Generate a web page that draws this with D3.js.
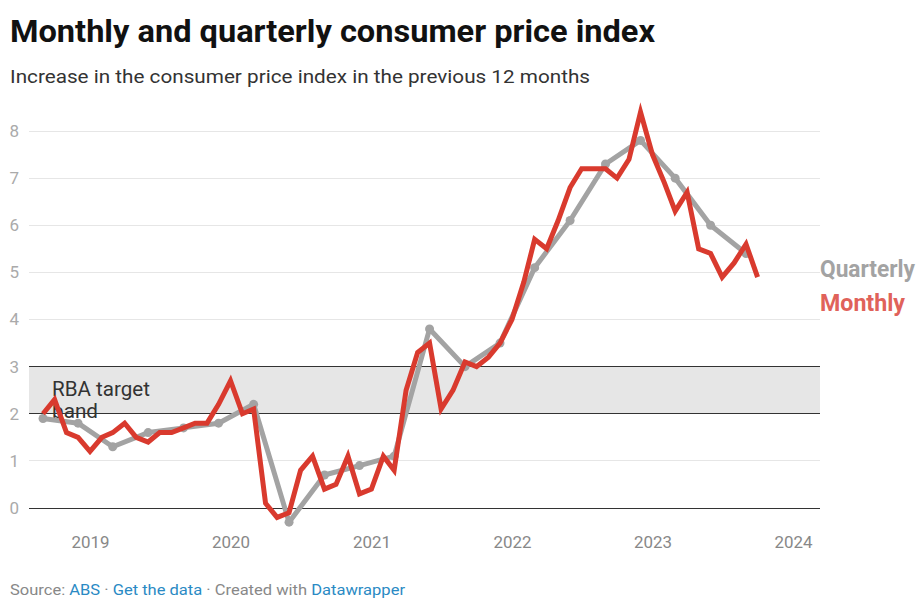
<!DOCTYPE html>
<html><head><meta charset="utf-8">
<script src="https://cdn.jsdelivr.net/npm/d3@7"></script>
<style>
body{margin:0;background:#fff;}
text{font-family:Roboto,"Noto Sans",sans-serif;}
</style>
</head><body>
<svg id="chart" width="918" height="600"></svg>
<script>
// ---- data ----
const monthlyStart = "2018-09";
const monthlyValues = [2.0,2.3,1.6,1.5,1.2,1.5,1.6,1.8,1.5,1.4,
  1.6,1.6,1.7,1.8,1.8,2.2,2.7,2.0,2.1,0.1,
  -0.2,-0.1,0.8,1.1,0.4,0.5,1.1,0.3,0.4,1.1,
  0.8,2.5,3.3,3.5,2.1,2.5,3.1,3.0,3.2,3.5,
  4.0,4.8,5.7,5.5,6.1,6.8,7.2,7.2,7.2,7.0,
  7.4,8.4,7.5,6.9,6.3,6.7,5.5,5.4,4.9,5.2,
  5.6,4.9];
const quarterlyDates = ["2018-09","2018-12","2019-03","2019-06","2019-09","2019-12","2020-03","2020-06",
  "2020-09","2020-12","2021-03","2021-06","2021-09","2021-12","2022-03","2022-06","2022-09","2022-12",
  "2023-03","2023-06","2023-09"];
const quarterlyValues = [1.9,1.8,1.3,1.6,1.7,1.8,2.2,-0.3,0.7,0.9,1.1,3.8,3.0,3.5,5.1,6.1,7.3,7.8,7.0,6.0,5.4];
const yearTicks = [2019,2020,2021,2022,2023,2024];
const yTicks = [0,1,2,3,4,5,6,7,8];
const targetBand = [2,3];
const seriesNames = ["Quarterly","Monthly"];

// ---- setup ----
const svg = d3.select("#chart");
const parse = d3.timeParse("%Y-%m");
const x = d3.scaleTime().domain([new Date(2019,0,1), new Date(2024,0,1)]).range([90,793]);
const y = d3.scaleLinear().domain([0,8]).range([508,131]);
const plotLeft = 29, plotRight = 820;

const start = parse(monthlyStart);
const monthly = monthlyValues.map((v,i)=>({date:d3.timeMonth.offset(start,i), value:v}));
const quarterly = quarterlyValues.map((v,i)=>({date:parse(quarterlyDates[i]), value:v}));

const grey = "#a3a3a3", red = "#d93a2e";

// title
svg.append("text").attr("x",10).attr("y",42).attr("font-size",32).attr("font-weight",700)
  .attr("fill","#111").attr("textLength",645).attr("lengthAdjust","spacingAndGlyphs")
  .text("Monthly and quarterly consumer price index");
svg.append("text").attr("x",10).attr("y",83).attr("font-size",19).attr("fill","#333")
  .attr("textLength",580).attr("lengthAdjust","spacingAndGlyphs")
  .text("Increase in the consumer price index in the previous 12 months");

// band
svg.append("rect").attr("x",plotLeft).attr("width",plotRight-plotLeft)
  .attr("y",y(targetBand[1])).attr("height",y(targetBand[0])-y(targetBand[1]))
  .attr("fill","#e6e6e6");

// gridlines
svg.append("g").selectAll("line").data(yTicks).join("line")
  .attr("x1",plotLeft).attr("x2",plotRight)
  .attr("y1",d=>y(d)).attr("y2",d=>y(d))
  .attr("stroke",d=>(d===0||targetBand.includes(d))?"#333":"#e6e6e6")
  .attr("stroke-width",1).attr("shape-rendering","crispEdges");

// y axis labels
const yAxis = d3.axisLeft(y).tickValues(yTicks).tickSize(0).tickPadding(0);
const gy = svg.append("g").attr("transform","translate(19,0)").call(yAxis);
gy.select(".domain").remove();
gy.selectAll("text").attr("font-size",17).attr("fill","#aaa").attr("font-family","Roboto,sans-serif");

// x axis labels
const xAxis = d3.axisBottom(x).tickValues(yearTicks.map(yr=>new Date(yr,0,1)))
  .tickFormat(d3.timeFormat("%Y")).tickSize(0).tickPadding(0);
const gx = svg.append("g").attr("transform","translate(0,536)").call(xAxis);
gx.select(".domain").remove();
gx.selectAll("text").attr("font-size",17).attr("fill","#888").attr("font-family","Roboto,sans-serif")
  .attr("textLength",38).attr("lengthAdjust","spacingAndGlyphs");

// RBA label
const rba = svg.append("text").attr("x",52).attr("y",396).attr("font-size",21).attr("fill","#333");
rba.append("tspan").attr("x",52).attr("textLength",98).attr("lengthAdjust","spacingAndGlyphs").text("RBA target");
rba.append("tspan").attr("x",52).attr("dy",22).attr("textLength",46).attr("lengthAdjust","spacingAndGlyphs").text("band");

// lines
const line = d3.line().x(d=>x(d.date)).y(d=>y(d.value));
svg.append("path").datum(quarterly).attr("d",line).attr("fill","none")
  .attr("stroke",grey).attr("stroke-width",5).attr("stroke-linejoin","round");
svg.append("g").selectAll("circle").data(quarterly).join("circle")
  .attr("cx",d=>x(d.date)).attr("cy",d=>y(d.value)).attr("r",4.5).attr("fill",grey);
svg.append("path").datum(monthly).attr("d",line).attr("fill","none")
  .attr("stroke",red).attr("stroke-width",5).attr("stroke-linejoin","miter");

// legend labels
svg.append("text").attr("x",820).attr("y",277).attr("font-size",23).attr("font-weight",700)
  .attr("fill","#a3a3a3").attr("textLength",95).attr("lengthAdjust","spacingAndGlyphs").text(seriesNames[0]);
svg.append("text").attr("x",820).attr("y",311).attr("font-size",23).attr("font-weight",700)
  .attr("fill","#e0625a").attr("textLength",85).attr("lengthAdjust","spacingAndGlyphs").text(seriesNames[1]);

// footer
const foot = svg.append("text").attr("x",10).attr("y",595).attr("font-size",15).attr("fill","#888")
  .attr("textLength",395).attr("lengthAdjust","spacingAndGlyphs");
foot.append("tspan").text("Source: ");
foot.append("tspan").attr("fill","#2a8ac4").text("ABS");
foot.append("tspan").text("  \u00b7 ");
foot.append("tspan").attr("fill","#2a8ac4").text("Get the data");
foot.append("tspan").text(" \u00b7 Created with ");
foot.append("tspan").attr("fill","#2a8ac4").text("Datawrapper");
</script>
</body></html>
